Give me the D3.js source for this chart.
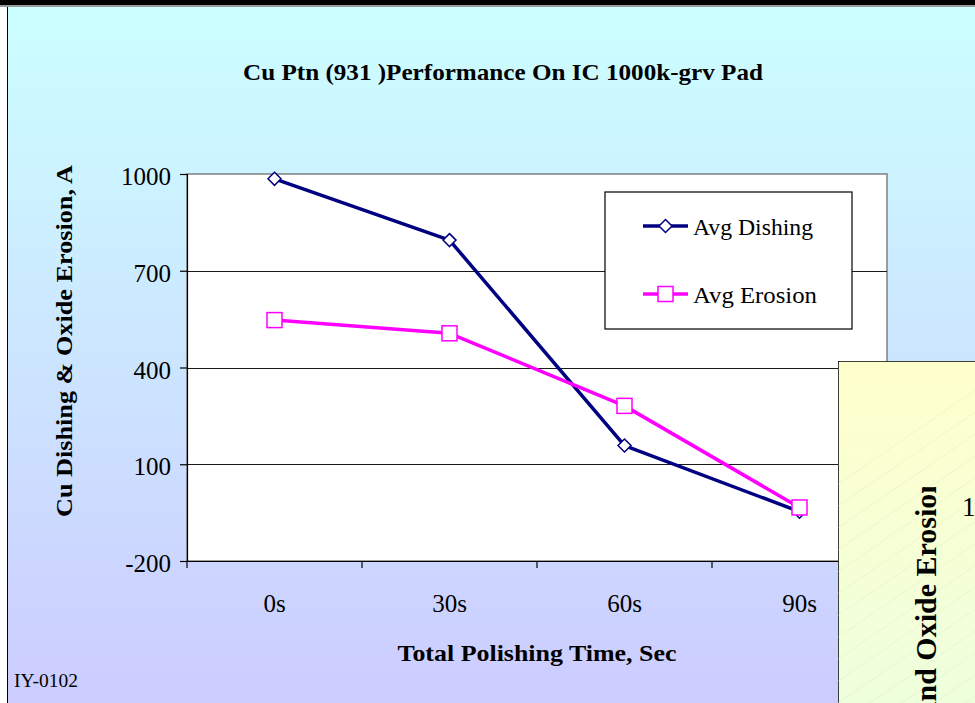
<!DOCTYPE html>
<html>
<head>
<meta charset="utf-8">
<script src="https://cdn.jsdelivr.net/npm/d3@7"></script>
<style>
  html, body { margin: 0; padding: 0; background: #fff; }
  svg { display: block; }
  text { font-family: "Liberation Serif", "Times New Roman", serif; fill: #000; }
</style>
</head>
<body>
<svg id="chart" width="975" height="703"></svg>
<script>
// Polishing time categories and measured averages (Angstrom)
const times = ["0s", "30s", "60s", "90s"];
const avgDishing = [985, 795, 158, -47];
const avgErosion = [547, 506, 281, -34];
const yTicks = [-200, 100, 400, 700, 1000];
const seriesNames = ["Avg Dishing", "Avg Erosion"];

const SERIF = "Liberation Serif, Times New Roman, serif";
const svg = d3.select("#chart");
const W = 975, H = 703;

const defs = svg.append("defs");
const bgGrad = defs.append("linearGradient").attr("id", "bg").attr("x1", 0).attr("y1", 0).attr("x2", 0).attr("y2", 1);
bgGrad.append("stop").attr("offset", "0%").attr("stop-color", "#ccffff");
bgGrad.append("stop").attr("offset", "100%").attr("stop-color", "#ccccff");

const panelGrad = defs.append("linearGradient").attr("id", "panelbg").attr("x1", 0).attr("y1", 0).attr("x2", 0).attr("y2", 1);
panelGrad.append("stop").attr("offset", "0%").attr("stop-color", "#ffffcc");
panelGrad.append("stop").attr("offset", "100%").attr("stop-color", "#eeffdd");

// Window frame and chart background
svg.append("rect").attr("x", 0).attr("y", 0).attr("width", W).attr("height", H).attr("fill", "#fff");
svg.append("rect").attr("x", 8).attr("y", 7).attr("width", W - 8).attr("height", H - 7).attr("fill", "url(#bg)");
svg.append("rect").attr("x", 0).attr("y", 0).attr("width", W).attr("height", 5).attr("fill", "#000");
svg.append("rect").attr("x", 0).attr("y", 5).attr("width", W).attr("height", 2).attr("fill", "#9a9a9a");
svg.append("line").attr("x1", 7.5).attr("x2", 7.5).attr("y1", 7).attr("y2", H).attr("stroke", "#000").attr("stroke-width", 1);

// Plot area
const plot = { left: 187, right: 887, top: 174, bottom: 561 };
const x = d3.scaleBand().domain(times).range([plot.left, plot.right]);
const y = d3.scaleLinear().domain([-200, 1000]).range([plot.bottom, plot.top]);
const cx = d => x(d) + x.bandwidth() / 2;

svg.append("rect")
  .attr("x", plot.left).attr("y", plot.top)
  .attr("width", plot.right - plot.left).attr("height", plot.bottom - plot.top)
  .attr("fill", "#fff").attr("stroke", "#808080").attr("stroke-width", 1.5);

// Horizontal gridlines
svg.append("g").selectAll("line")
  .data(yTicks.filter(v => v > -200 && v < 1000))
  .join("line")
  .attr("x1", plot.left).attr("x2", plot.right)
  .attr("y1", d => Math.round(y(d)) + 0.5).attr("y2", d => Math.round(y(d)) + 0.5)
  .attr("stroke", "#1a1a1a").attr("stroke-width", 1.2);

// Y axis
const yAxis = d3.axisLeft(y).tickValues(yTicks).tickSize(7).tickPadding(9).tickFormat(d => String(d));
const gy = svg.append("g").attr("transform", `translate(${plot.left},0)`).call(yAxis)
  .attr("font-family", SERIF).attr("font-size", 25);
gy.select(".domain").attr("stroke", "#000").attr("stroke-width", 1.2);
gy.selectAll(".tick line").attr("stroke", "#000").attr("stroke-width", 1.2);
gy.selectAll(".tick text").attr("dy", "0.42em").attr("fill", "#000");

// X axis: ticks on category boundaries, labels centred in each band
const xAxisG = svg.append("g").attr("transform", `translate(0,${plot.bottom})`);
xAxisG.append("line").attr("x1", plot.left).attr("x2", plot.right).attr("y1", 0.5).attr("y2", 0.5)
  .attr("stroke", "#000").attr("stroke-width", 1.2);
const bounds = times.map(t => x(t)).concat([plot.right]);
xAxisG.selectAll("line.tk").data(bounds).join("line").attr("class", "tk")
  .attr("x1", d => d).attr("x2", d => d).attr("y1", 0).attr("y2", 7)
  .attr("stroke", "#000").attr("stroke-width", 1.2);
xAxisG.selectAll("text").data(times).join("text")
  .attr("x", d => cx(d)).attr("y", 51)
  .attr("text-anchor", "middle").attr("font-family", SERIF).attr("font-size", 25)
  .text(d => d);

// Series lines and markers
const line = d3.line().x((d, i) => cx(times[i])).y(d => y(d));

svg.append("path").datum(avgDishing).attr("d", line)
  .attr("fill", "none").attr("stroke", "#000080").attr("stroke-width", 3.5).attr("stroke-linejoin", "round");
svg.append("path").datum(avgErosion).attr("d", line)
  .attr("fill", "none").attr("stroke", "#ff00ff").attr("stroke-width", 3.5).attr("stroke-linejoin", "round");

const diamond = (px, py, r) => `M${px},${py - r}L${px + r},${py}L${px},${py + r}L${px - r},${py}Z`;

svg.append("g").selectAll("path").data(avgDishing).join("path")
  .attr("d", (d, i) => diamond(cx(times[i]), y(d), 6.5))
  .attr("fill", "#fff").attr("stroke", "#000080").attr("stroke-width", 1.5);

svg.append("g").selectAll("rect").data(avgErosion).join("rect")
  .attr("x", (d, i) => cx(times[i]) - 7.5).attr("y", d => y(d) - 7.5)
  .attr("width", 15).attr("height", 15)
  .attr("fill", "#fff").attr("stroke", "#ff00ff").attr("stroke-width", 1.5);

// Legend
const lg = svg.append("g");
lg.append("rect").attr("x", 605).attr("y", 192).attr("width", 247).attr("height", 137)
  .attr("fill", "#fff").attr("stroke", "#000").attr("stroke-width", 1.2);
const legendRows = [
  { name: seriesNames[0], color: "#000080", y: 226, shape: "diamond", w: 120 },
  { name: seriesNames[1], color: "#ff00ff", y: 294, shape: "square", w: 124 }
];
legendRows.forEach(r => {
  lg.append("line").attr("x1", 643).attr("x2", 688).attr("y1", r.y).attr("y2", r.y)
    .attr("stroke", r.color).attr("stroke-width", 3.5);
  if (r.shape === "diamond") {
    lg.append("path").attr("d", diamond(665.5, r.y, 6.5))
      .attr("fill", "#fff").attr("stroke", r.color).attr("stroke-width", 1.5);
  } else {
    lg.append("rect").attr("x", 658).attr("y", r.y - 7.5).attr("width", 15).attr("height", 15)
      .attr("fill", "#fff").attr("stroke", r.color).attr("stroke-width", 1.5);
  }
  lg.append("text").attr("x", 693).attr("y", r.y + 9).attr("font-family", SERIF).attr("font-size", 24)
    .attr("textLength", r.w).attr("lengthAdjust", "spacingAndGlyphs").text(r.name);
});

// Titles
svg.append("text").attr("x", 503).attr("y", 80).attr("text-anchor", "middle")
  .attr("font-family", SERIF).attr("font-size", 24).attr("font-weight", "bold")
  .attr("textLength", 520).attr("lengthAdjust", "spacingAndGlyphs")
  .text("Cu Ptn (931 )Performance On IC 1000k-grv Pad");

svg.append("text").attr("x", 537).attr("y", 661).attr("text-anchor", "middle")
  .attr("font-family", SERIF).attr("font-size", 24).attr("font-weight", "bold")
  .attr("textLength", 279).attr("lengthAdjust", "spacingAndGlyphs")
  .text("Total Polishing Time, Sec");

svg.append("text").attr("transform", "translate(72,341) rotate(-90)").attr("text-anchor", "middle")
  .attr("font-family", SERIF).attr("font-size", 24).attr("font-weight", "bold")
  .attr("textLength", 352).attr("lengthAdjust", "spacingAndGlyphs")
  .text("Cu Dishing & Oxide Erosion, A");

svg.append("text").attr("x", 14).attr("y", 687).attr("font-family", SERIF).attr("font-size", 19.5).text("IY-0102");

// Second chart window overlapping at the lower right
const px0 = 838, py0 = 361;
defs.append("clipPath").attr("id", "panelclip")
  .append("rect").attr("x", px0).attr("y", py0).attr("width", W - px0).attr("height", H - py0);
const panel = svg.append("g").attr("clip-path", "url(#panelclip)");
panel.append("rect").attr("x", px0).attr("y", py0).attr("width", W - px0 + 2).attr("height", H - py0 + 2)
  .attr("fill", "url(#panelbg)").attr("stroke", "#000").attr("stroke-width", 1.5);
// faint diagonal texture
for (let k = -10; k < 14; k++) {
  const x0 = px0 + k * 32;
  panel.append("line").attr("x1", x0).attr("y1", H).attr("x2", x0 + 500).attr("y2", py0)
    .attr("stroke", "#e6e6cf").attr("stroke-width", 0.7).attr("opacity", 0.6);
}
// its vertical axis title, cut at the top by the inner plot frame
defs.append("clipPath").attr("id", "ylabclip")
  .append("rect").attr("x", px0).attr("y", 487).attr("width", W - px0).attr("height", H - 487);
panel.append("g").attr("clip-path", "url(#ylabclip)")
  .append("text")
  .attr("transform", "translate(936,487) rotate(-90)").attr("text-anchor", "end")
  .attr("font-family", SERIF).attr("font-size", 30).attr("font-weight", "bold")
  .attr("dx", 45)
  .text("Cu Dishing and Oxide Erosion, A");
panel.append("text").attr("x", 962).attr("y", 516).attr("font-family", SERIF).attr("font-size", 27).text("1000");
</script>
</body>
</html>
